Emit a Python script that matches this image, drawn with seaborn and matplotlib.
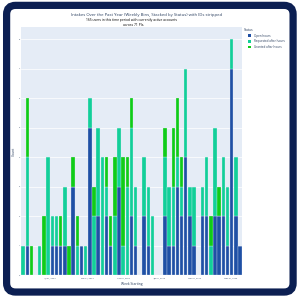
import pandas as pd
import seaborn as sns
import matplotlib.pyplot as plt
import matplotlib.dates as mdates
from matplotlib.patches import Patch, FancyBboxPatch

# weekly bins, one entry per week (week starting)
week_start = pd.date_range("2024-05-14", periods=53, freq="7D")

open_hours = [0, 1, 0, 0, 0, 0, 0, 1, 1, 1, 1, 0, 3, 0, 1, 0, 5, 0, 2, 0,
              2, 1, 0, 3, 0, 0, 2, 1, 0, 2, 1, 0, 0, 0, 2, 1, 1, 3, 2, 4,
              2, 1, 0, 2, 2, 0, 2, 2, 2, 1, 7, 2, 1]
requested_after = [1, 3, 0, 0, 1, 0, 4, 1, 1, 0, 2, 0, 0, 1, 0, 1, 1, 2, 3, 4,
                   1, 0, 2, 2, 1, 3, 3, 2, 0, 2, 2, 2, 0, 0, 2, 2, 2, 1, 1, 3,
                   1, 2, 0, 1, 2, 1, 3, 0, 2, 2, 1, 2, 0]
granted_after = [0, 2, 1, 0, 0, 2, 0, 0, 0, 1, 0, 1, 1, 1, 0, 0, 0, 1, 0, 0,
                 1, 1, 2, 0, 3, 1, 1, 0, 0, 0, 0, 0, 0, 0, 1, 0, 2, 2, 1, 0,
                 0, 0, 0, 0, 0, 1, 0, 1, 0, 0, 0, 0, 0]

status_labels = ["Open hours", "Requested after hours", "Granted after hours"]
status_colors = ["#1f50a5", "#12cf99", "#10cc18"]

title = "Intakes Over the Past Year (Weekly Bins, Stacked by Status) with IDs stripped"
subtitle1 = "165 users in this time period with currently active accounts"
subtitle2 = "across 71 PIs."

# long form table for histplot
rows = []
for label, vals in zip(status_labels, [open_hours, requested_after, granted_after]):
    for d, v in zip(week_start, vals):
        if v > 0:
            rows.append({"Week Starting": d, "Status": label, "Count": v})
df = pd.DataFrame(rows)

navy = "#0c1f52"
txt = "#2a3f5f"
font = "Open Sans"

fig = plt.figure(figsize=(3.0, 2.98), dpi=100)
fig.patch.set_facecolor("white")
fig.patches.append(FancyBboxPatch((0.022, 0.02), 0.955, 0.962,
                                  boxstyle="round,pad=0,rounding_size=0.03",
                                  transform=fig.transFigure, facecolor="white",
                                  edgecolor=navy, linewidth=5.2, zorder=-1))

ax = fig.add_axes([0.07, 0.077, 0.737, 0.833])
ax.set_facecolor("#E5ECF6")

# bin edges half a day before each week start so every value sits inside its bin
b0 = mdates.date2num(week_start[0]) - 0.5
b1 = b0 + 7 * len(week_start)

# seaborn stacks the last hue level at the bottom, so reverse the order
sns.histplot(data=df, x="Week Starting", weights="Count", hue="Status",
             hue_order=status_labels[::-1], palette=dict(zip(status_labels, status_colors)),
             multiple="stack", binwidth=7, binrange=(b0, b1), shrink=0.82,
             edgecolor="#e8f0f8", linewidth=0.2, alpha=1, legend=False, ax=ax)

ax.set_xlim(b0, b1)
ax.set_ylim(0, 8.42)
ax.set_yticks(range(0, 9))
ax.grid(axis="y", color="white", linewidth=0.5)
ax.grid(axis="x", visible=False)
ax.set_axisbelow(True)
for s in ax.spines.values():
    s.set_visible(False)

ax.xaxis.set_major_locator(mdates.MonthLocator(bymonth=[1, 3, 5, 7, 9, 11]))
ax.xaxis.set_major_formatter(mdates.DateFormatter("%b %d, %Y"))
ax.tick_params(length=0, labelsize=1.5, labelcolor=txt)
ax.tick_params(axis="x", pad=1.5)
ax.tick_params(axis="y", pad=0.6)
for lab in ax.get_xticklabels() + ax.get_yticklabels():
    lab.set_fontfamily(font)

ax.set_xlabel("Week Starting", fontsize=2.4, color=txt, family=font, labelpad=2)
ax.set_ylabel("Count", fontsize=2.4, color=txt, family=font, labelpad=2.5)

fig.text(0.49, 0.951, title, ha="center", va="center", fontsize=3.1, color=txt, family=font)
fig.text(0.438, 0.933, subtitle1, ha="center", va="center", fontsize=2.45, color="black", family=font)
fig.text(0.444, 0.916, subtitle2, ha="center", va="center", fontsize=2.4, color="black", family=font)

# legend: title as separate text, items indented like plotly
fig.text(0.814, 0.9, "Status", ha="left", va="center", fontsize=2.4, color=txt, family=font)
handles = [Patch(facecolor=c, edgecolor="none", label=l)
           for l, c in zip(status_labels, status_colors)]
leg = ax.legend(handles=handles, loc="upper left",
                bbox_to_anchor=(1.027, 0.972), frameon=False,
                prop={"family": font, "size": 2.2},
                handlelength=0.9, handleheight=0.9, handletextpad=1.2,
                labelspacing=0.55, borderaxespad=0, borderpad=0)
for t in leg.get_texts():
    t.set_color(txt)

fig.savefig("out.png", dpi=100)
